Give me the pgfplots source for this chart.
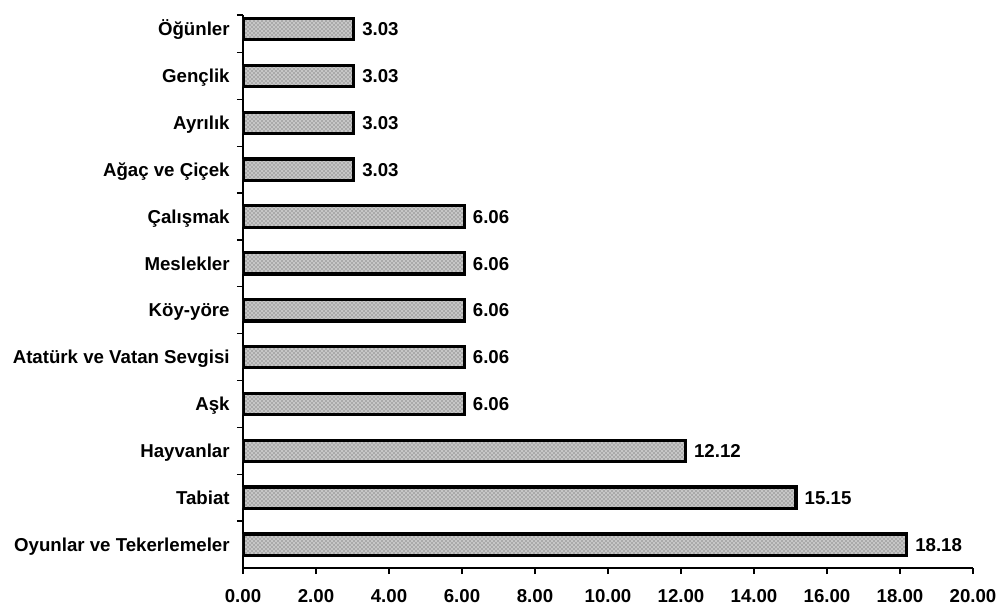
\documentclass[border=0pt]{standalone}
\usepackage{fontspec}
\setmainfont{Liberation Sans}
\usepackage{pgfplots}
\pgfplotsset{compat=1.18}
\usetikzlibrary{patterns}
\begin{document}
\begin{tikzpicture}
\begin{axis}[name=ax, scale only axis, width=547.5pt, height=414.75pt,
  xmin=0, xmax=20, ymin=-0.5, ymax=11.3,
  xbar, bar width=16pt,
  axis x line*=bottom, axis y line*=left,
  axis line style={line width=1pt,-},
  tick align=outside, major tick length=4.5pt,
  every tick/.style={black, line width=1pt},
  /pgf/number format/assume math mode=true,
  xtick={0,2,...,20},
  xticklabel={\pgfmathprintnumber[fixed,fixed zerofill,precision=2]{\tick}},
  xticklabel style={font=\fontsize{14}{16}\selectfont\bfseries, yshift=-8pt},
  ytick={0.5,1.5,2.5,3.5,4.5,5.5,6.5,7.5,8.5,9.5,10.5,11.3}, yticklabels={},
  extra y ticks={0,1,...,11},
  extra y tick labels={Oyunlar ve Tekerlemeler, Tabiat, Hayvanlar, Aşk, Atatürk ve Vatan Sevgisi, Köy-yöre, Meslekler, Çalışmak, Ağaç ve Çiçek, Ayrılık, Gençlik, Öğünler},
  extra y tick style={major tick length=0pt, yticklabel style={font=\fontsize{14}{16}\selectfont\bfseries, xshift=-6.5pt, text height=10pt, text depth=0pt}},
  point meta=x,
  nodes near coords={\pgfmathprintnumber[fixed,fixed zerofill,precision=2]{\pgfplotspointmeta}},
  nodes near coords style={font=\fontsize{14}{16}\selectfont\bfseries, anchor=west, xshift=2pt, text height=10pt, text depth=0pt},
]
\addplot[draw=black, line width=2.4pt, fill=black!22, postaction={pattern=crosshatch dots, pattern color=black!70}] coordinates {
  (18.18,0) (15.15,1) (12.12,2) (6.06,3) (6.06,4) (6.06,5) (6.06,6) (6.06,7)
  (3.03,8) (3.03,9) (3.03,10) (3.03,11)
};
\end{axis}
\pgfresetboundingbox
\path[use as bounding box] (ax.south west) ++(-182.25pt,-32.25pt) rectangle ++(750pt,458.25pt);
\end{tikzpicture}
\end{document}
